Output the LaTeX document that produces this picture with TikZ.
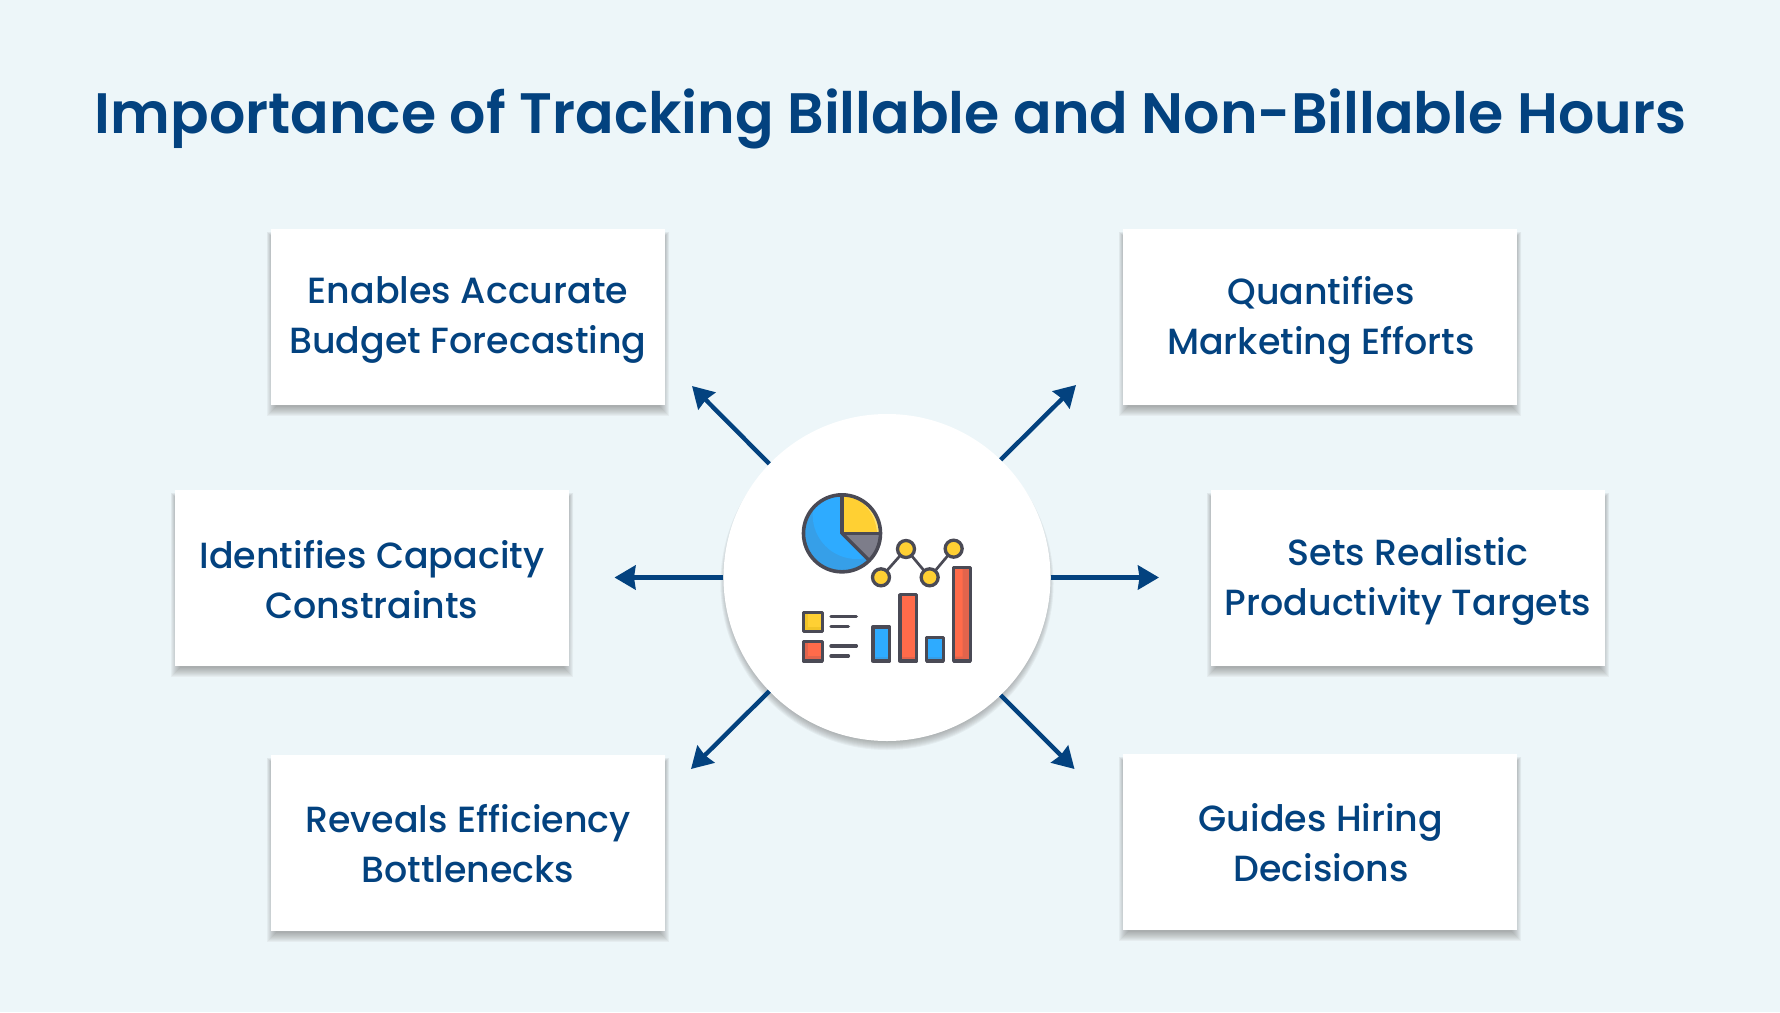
\documentclass[tikz,border=0pt]{standalone}
\usepackage{fontspec}
\setmainfont{Poppins}
\newfontfamily\titlefont{Poppins SemiBold}
\newfontfamily\bodyfont{Poppins Medium}
\usetikzlibrary{arrows.meta}
\definecolor{bgc}{HTML}{EDF6F9}
\definecolor{navy}{HTML}{03427F}
\definecolor{ink}{HTML}{4A4A55}
\definecolor{shade}{HTML}{3A4A50}
\definecolor{pieblue}{HTML}{2EABFF}
\definecolor{pieblueB}{HTML}{369FE8}
\definecolor{yelA}{HTML}{FFD033}
\definecolor{yelB}{HTML}{F2C428}
\definecolor{yelC}{HTML}{FFE373}
\definecolor{redA}{HTML}{FF6B4A}
\definecolor{redB}{HTML}{E2644C}
\definecolor{greyA}{HTML}{7D7D8A}
\newcommand{\rectshadow}[2]{%
  \foreach \e in {9,8,7,6,5,4,3,2,1,0}{
    \fill[shade,opacity=.04]
      ({#1-197-\e+5},{#2-88+12-\e}) rectangle ({#1+197+\e-5},{#2+88+2+\e});
  }%
}
\tikzset{
  box/.style={fill=white,minimum width=394pt,minimum height=176pt,inner sep=0pt},
  boxtext/.style={text=navy,align=center,inner sep=0pt,font=\bodyfont\fontsize{36.4}{50}\selectfont},
  conn/.style={draw=navy,line width=4.4pt,-{Stealth[length=21pt,width=24pt,inset=1.5pt]}},
  hubstyle/.style={circle,fill=white,minimum size=327pt,inner sep=0pt},
  icon/.style={draw=ink,line width=3.3pt,line join=round},
  iconline/.style={draw=ink,line width=3.4pt,line cap=round},
}
\begin{document}
\begin{tikzpicture}[x=1pt,y=-1pt]
\useasboundingbox (0,0) rectangle (1780,1012);
\fill[bgc] (0,0) rectangle (1780,1012);

\node[text=navy,inner sep=0pt,font=\titlefont\fontsize{57}{66}\selectfont] (title) at (890.5,119) {Importance of Tracking Billable and Non-Billable Hours};

% soft shadows
\rectshadow{468}{317}
\rectshadow{372}{578}
\rectshadow{468}{843}
\rectshadow{1320}{317}
\rectshadow{1408}{578}
\rectshadow{1320}{842}
\foreach \e in {9,8,7,6,5,4,3,2,1,0}{
  \fill[shade,opacity=.04] (887,{577.5+6}) circle ({163.5+\e-6});
}

% boxes
\node[box] (b1) at (468,317) {};
\node[box] (b2) at (372,578) {};
\node[box] (b3) at (468,843) {};
\node[box] (b4) at (1320,317) {};
\node[box] (b5) at (1408,578) {};
\node[box] (b6) at (1320,842) {};

\node[boxtext] (t1) at (468,320) {Enables Accurate\\Budget Forecasting};
\node[boxtext] (t2) at (372,580) {Identifies Capacity\\Constraints};
\node[boxtext] (t3) at (468,844) {Reveals Efficiency\\Bottlenecks};
\node[boxtext] (t4) at (1321,320) {Quantifies\\Marketing Efforts};
\node[boxtext] (t5) at (1408,581) {Sets Realistic\\Productivity Targets};
\node[boxtext] (t6) at (1321,843) {Guides Hiring\\Decisions};

% hub
\node[hubstyle] (hub) at (887,577.5) {};

% free ends of the connectors
\coordinate (e1) at (692,386);
\coordinate (e2) at (614.5,577.5);
\coordinate (e3) at (691,769);
\coordinate (e4) at (1076,385);
\coordinate (e5) at (1159,577.5);
\coordinate (e6) at (1074.5,769);

\draw[conn] (hub.136) -- (e1);
\draw[conn] (hub.west) -- (e2);
\draw[conn] (hub.224) -- (e3);
\draw[conn] (hub.46) -- (e4);
\draw[conn] (hub.east) -- (e5);
\draw[conn] (hub.-46) -- (e6);

% icon
\begin{scope}[shift={(780,470)},x=0.3333pt,y=-0.3333pt]
  % pie
  \begin{scope}
    \clip (186,190) circle [radius=38.5pt];
    \fill[pieblueB] (60,60) rectangle (320,320);
    \fill[pieblue] (230,135) circle [radius=44pt];
    \fill[greyA] (186,190) -- (320,190) -- (320,324) -- cycle;
    \begin{scope}
      \clip (186,60) rectangle (320,190);
      \fill[yelC] (186,60) rectangle (320,190);
      \fill[yelA] (165,195) circle [radius=42pt];
    \end{scope}
  \end{scope}
  \draw[icon,line width=3.6pt] (186,190) circle [radius=38.5pt];
  \draw[icon,line cap=round] (186,75) -- (186,190) -- (301,190);
  \draw[icon,line cap=round] (186,190) -- (267,271);
  % trend line
  \draw[draw=ink,line width=2.7pt] (303,322) -- (378,237) -- (449,322) -- (521,236);
  \foreach \p in {(303,322),(378,237),(449,322),(521,236)}{
    \fill[yelA] \p circle [radius=8.5pt];
    \draw[draw=ink,line width=3.3pt] \p circle [radius=8.5pt];
  }
  % bars
  \fill[pieblue] (279,471) rectangle (329,573);
  \fill[pieblueB] (279,560) rectangle (329,573);
  \fill[redA] (360,374) rectangle (410,573);
  \fill[redB] (360,560) rectangle (410,573);
  \fill[pieblue] (440,503) rectangle (490,573);
  \fill[pieblueB] (440,560) rectangle (490,573);
  \fill[redA] (521,293) rectangle (571,573);
  \fill[redB] (521,560) rectangle (571,573) (548,293) rectangle (571,573);
  \draw[icon] (279,471) rectangle (329,573);
  \draw[icon] (360,374) rectangle (410,573);
  \draw[icon] (440,503) rectangle (490,573);
  \draw[icon] (521,293) rectangle (571,573);
  % legend
  \fill[yelB] (70,427) rectangle (127,485);
  \fill[yelA] (85,427) rectangle (127,470);
  \draw[icon] (70,427) rectangle (127,485);
  \fill[redB] (70,515) rectangle (127,573);
  \fill[redA] (85,515) rectangle (127,558);
  \draw[icon] (70,515) rectangle (127,573);
  \draw[iconline] (153,440) -- (229,440);
  \draw[iconline] (153,470) -- (205,470);
  \draw[iconline] (153,528) -- (229,528);
  \draw[iconline] (153,558) -- (205,558);
\end{scope}
\end{tikzpicture}
\end{document}
